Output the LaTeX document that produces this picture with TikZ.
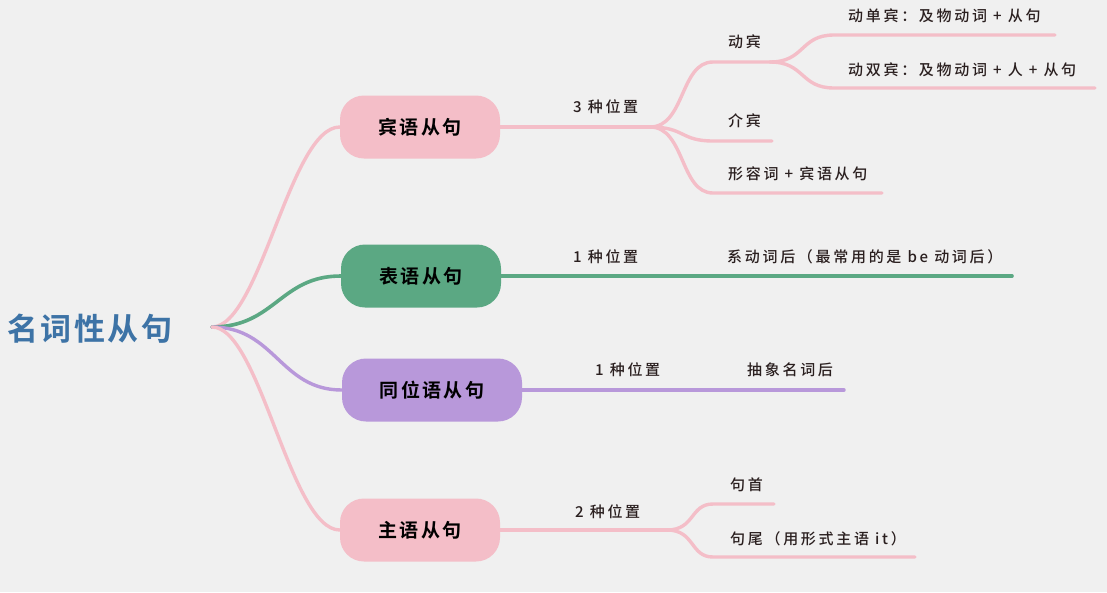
\documentclass[tikz,border=0pt]{standalone}
\usepackage{fontspec}
\setmainfont{Noto Sans CJK SC}
\newfontfamily\lblfont{Noto Sans CJK SC Medium}[LetterSpace=18]
\newfontfamily\nodefont{Noto Sans CJK SC Bold}[LetterSpace=12]
\newfontfamily\titlefont{Noto Sans CJK SC Bold}[LetterSpace=8]
\definecolor{bgc}{HTML}{F0F0F0}
\definecolor{pinkc}{HTML}{F4BEC8}
\definecolor{greenc}{HTML}{5BA883}
\definecolor{purplec}{HTML}{B898DA}
\definecolor{bluec}{HTML}{3D73A6}
\definecolor{txtc}{HTML}{2A1F1F}
\tikzset{
  mainbox/.style={rounded corners=24pt, minimum width=160pt, minimum height=63pt, inner sep=0pt, text=black, font={\fontsize{19}{22}\nodefont}},
  lbl/.style={anchor=west, inner sep=0pt, text=txtc, font={\fontsize{15}{17}\lblfont}},
  titlestyle/.style={anchor=west, inner sep=0pt, text=bluec, font={\fontsize{31}{34}\titlefont}},
  pinkline/.style={draw=pinkc, line width=3.4pt, line cap=round},
  greenline/.style={draw=greenc, line width=3.6pt, line cap=round},
  purpleline/.style={draw=purplec, line width=3.4pt, line cap=round}
}
\begin{document}
\begin{tikzpicture}[x=1pt,y=-1pt]
\fill[bgc] (0,0) rectangle (1107,592);
\useasboundingbox (0,0) rectangle (1107,592);

% title and root
\node[titlestyle] (title) at (7,329) {名词性从句};
\coordinate (root) at (212,327);

% main nodes
\node[mainbox, fill=pinkc] (obj) at (420,127) {宾语从句};
\node[mainbox, fill=greenc] (pred) at (421,276) {表语从句};
\node[mainbox, fill=purplec, minimum width=180pt] (appo) at (432,390) {同位语从句};
\node[mainbox, fill=pinkc] (subj) at (420,530) {主语从句};

% root branches
\draw[pinkline] (root) .. controls (260,327) and (290,127) .. (obj.west);
\draw[greenline] (root) .. controls (275,327) and (280,276) .. (pred.west);
\draw[purpleline] (root) .. controls (275,327) and (280,390) .. (appo.west);
\draw[pinkline] (root) .. controls (260,327) and (290,530) .. (subj.west);

% ---- object clause
\coordinate (o1) at (650,127);
\coordinate (dbs) at (713,62);  \coordinate (dbe) at (770,62);
\coordinate (jbs) at (713,141); \coordinate (jbe) at (772,141);
\coordinate (xrs) at (713,193); \coordinate (xre) at (882,193);
\coordinate (dds) at (834,35);  \coordinate (dde) at (1055,35);
\coordinate (dss) at (834,88);  \coordinate (dse) at (1095,88);
\draw[pinkline] (obj.east) -- (o1);
\draw[pinkline] (o1) .. controls (685,127) and (680,62) .. (dbs) -- (dbe);
\draw[pinkline] (o1) .. controls (685,127) and (680,141) .. (jbs) -- (jbe);
\draw[pinkline] (o1) .. controls (685,127) and (680,193) .. (xrs) -- (xre);
\draw[pinkline] (dbe) .. controls (805,62) and (800,35) .. (dds) -- (dde);
\draw[pinkline] (dbe) .. controls (805,62) and (800,88) .. (dss) -- (dse);
\node[lbl] (o1t) at (573,107) {3 种位置};
\node[lbl] (dbt) at (728,42) {动宾};
\node[lbl] (jbt) at (728,121) {介宾};
\node[lbl] (xrt) at (728,174) {形容词 + 宾语从句};
\node[lbl] (ddt) at (848,16) {动单宾：及物动词 + 从句};
\node[lbl] (dst) at (848,70) {动双宾：及物动词 + 人 + 从句};

% ---- predicative clause
\coordinate (pm) at (710,276);
\coordinate (pe) at (1012,276);
\draw[greenline] (pred.east) -- (pm) -- (pe);
\node[lbl] (p1t) at (573,257) {1 种位置};
\node[lbl] (p2t) at (727,257) {系动词后（最常用的是 be 动词后）};

% ---- appositive clause
\coordinate (am) at (735,390);
\coordinate (ae) at (844,390);
\draw[purpleline] (appo.east) -- (am) -- (ae);
\node[lbl] (a1t) at (595,370) {1 种位置};
\node[lbl] (a2t) at (747,370) {抽象名词后};

% ---- subject clause
\coordinate (s1) at (667,530);
\coordinate (sqs) at (713,504); \coordinate (sqe) at (774,504);
\coordinate (sws) at (713,557); \coordinate (swe) at (915,557);
\draw[pinkline] (subj.east) -- (s1);
\draw[pinkline] (s1) .. controls (695,530) and (690,504) .. (sqs) -- (sqe);
\draw[pinkline] (s1) .. controls (695,530) and (690,557) .. (sws) -- (swe);
\node[lbl] (s1t) at (575,512) {2 种位置};
\node[lbl] (sqt) at (730,485) {句首};
\node[lbl] (swt) at (730,539) {句尾（用形式主语 it）};
\end{tikzpicture}
\end{document}
